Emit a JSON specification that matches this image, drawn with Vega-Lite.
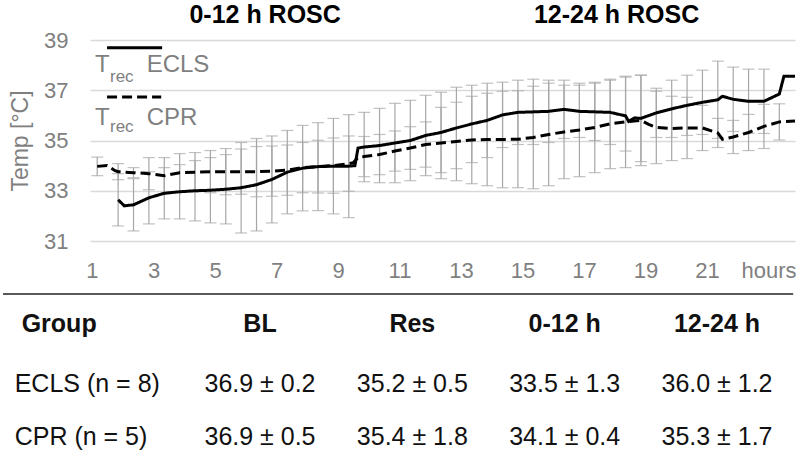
{
  "$schema": "https://vega.github.io/schema/vega-lite/v6.json",
  "width": 705,
  "height": 201,
  "autosize": {"type": "none"},
  "padding": {"left": 90, "top": 40, "right": 5, "bottom": 217},
  "background": "white",
  "config": {
    "view": {"stroke": null},
    "font": "Liberation Sans",
    "text": {"font": "Liberation Sans"},
    "axis": {"labelFont": "Liberation Sans", "titleFont": "Liberation Sans"}
  },
  "datasets": {
    "series": [
      {"t":1.85,"g":"ECLS","m":32.64,"lo":31.6,"hi":33.68},
      {"t":2.05,"g":"ECLS","m":32.4},
      {"t":2.35,"g":"ECLS","m":32.44,"lo":31.4,"hi":33.48},
      {"t":2.85,"g":"ECLS","m":32.72,"lo":31.68,"hi":33.76},
      {"t":3.35,"g":"ECLS","m":32.9,"lo":31.88,"hi":33.92},
      {"t":3.85,"g":"ECLS","m":32.96,"lo":31.88,"hi":34.04},
      {"t":4.35,"g":"ECLS","m":33.0,"lo":31.8,"hi":34.2},
      {"t":4.85,"g":"ECLS","m":33.02,"lo":31.72,"hi":34.32},
      {"t":5.35,"g":"ECLS","m":33.06,"lo":31.68,"hi":34.44},
      {"t":5.85,"g":"ECLS","m":33.12,"lo":31.32,"hi":34.92},
      {"t":6.35,"g":"ECLS","m":33.24,"lo":31.4,"hi":35.08},
      {"t":6.85,"g":"ECLS","m":33.45,"lo":31.72,"hi":35.18},
      {"t":7.35,"g":"ECLS","m":33.74,"lo":32.08,"hi":35.4},
      {"t":7.85,"g":"ECLS","m":33.9,"lo":32.2,"hi":35.6},
      {"t":8.35,"g":"ECLS","m":33.96,"lo":32.21,"hi":35.71},
      {"t":8.85,"g":"ECLS","m":33.98,"lo":32.08,"hi":35.88},
      {"t":9.35,"g":"ECLS","m":33.98,"lo":31.93,"hi":36.03},
      {"t":9.55,"g":"ECLS","m":34.0},
      {"t":9.65,"g":"ECLS","m":34.7},
      {"t":9.85,"g":"ECLS","m":34.74,"lo":33.36,"hi":36.12},
      {"t":10.35,"g":"ECLS","m":34.8,"lo":33.32,"hi":36.28},
      {"t":10.85,"g":"ECLS","m":34.9,"lo":33.32,"hi":36.48},
      {"t":11.35,"g":"ECLS","m":35.0,"lo":33.4,"hi":36.6},
      {"t":11.85,"g":"ECLS","m":35.2,"lo":33.6,"hi":36.8},
      {"t":12.35,"g":"ECLS","m":35.32,"lo":33.72,"hi":36.92},
      {"t":12.85,"g":"ECLS","m":35.5,"lo":33.88,"hi":37.12},
      {"t":13.35,"g":"ECLS","m":35.66,"lo":34.12,"hi":37.2},
      {"t":13.85,"g":"ECLS","m":35.8,"lo":34.32,"hi":37.28},
      {"t":14.35,"g":"ECLS","m":36.02,"lo":34.72,"hi":37.32},
      {"t":14.85,"g":"ECLS","m":36.12,"lo":34.84,"hi":37.4},
      {"t":15.35,"g":"ECLS","m":36.14,"lo":34.84,"hi":37.44},
      {"t":15.85,"g":"ECLS","m":36.16,"lo":34.92,"hi":37.4},
      {"t":16.35,"g":"ECLS","m":36.24,"lo":35.08,"hi":37.4},
      {"t":16.85,"g":"ECLS","m":36.16,"lo":35.12,"hi":37.2},
      {"t":17.35,"g":"ECLS","m":36.14,"lo":35.0,"hi":37.28},
      {"t":17.85,"g":"ECLS","m":36.12,"lo":34.84,"hi":37.4},
      {"t":18.35,"g":"ECLS","m":35.98,"lo":34.58,"hi":37.52},
      {"t":18.45,"g":"ECLS","m":35.76},
      {"t":18.65,"g":"ECLS","m":35.9},
      {"t":18.85,"g":"ECLS","m":35.88,"lo":34.16,"hi":37.6},
      {"t":19.35,"g":"ECLS","m":36.1,"lo":35.12,"hi":37.08},
      {"t":19.85,"g":"ECLS","m":36.26,"lo":35.12,"hi":37.4},
      {"t":20.35,"g":"ECLS","m":36.4,"lo":35.2,"hi":37.6},
      {"t":20.85,"g":"ECLS","m":36.52,"lo":35.24,"hi":37.8},
      {"t":21.35,"g":"ECLS","m":36.62,"lo":35.08,"hi":38.16},
      {"t":21.5,"g":"ECLS","m":36.76},
      {"t":21.85,"g":"ECLS","m":36.64,"lo":35.36,"hi":37.92},
      {"t":22.35,"g":"ECLS","m":36.56,"lo":35.28,"hi":37.84},
      {"t":22.85,"g":"ECLS","m":36.56,"lo":35.28,"hi":37.84},
      {"t":23.35,"g":"ECLS","m":36.85},
      {"t":23.5,"g":"ECLS","m":37.56},
      {"t":23.86,"g":"ECLS","m":37.56},
      {"t":1.17,"g":"CPR","m":33.97,"lo":33.6,"hi":34.34},
      {"t":1.49,"g":"CPR","m":34.0},
      {"t":1.75,"g":"CPR","m":33.8},
      {"t":1.85,"g":"CPR","m":33.76,"lo":33.44,"hi":34.08},
      {"t":2.35,"g":"CPR","m":33.72,"lo":33.52,"hi":33.92},
      {"t":2.85,"g":"CPR","m":33.68,"lo":33.04,"hi":34.32},
      {"t":3.35,"g":"CPR","m":33.6,"lo":32.88,"hi":34.32},
      {"t":3.85,"g":"CPR","m":33.72,"lo":32.96,"hi":34.48},
      {"t":4.35,"g":"CPR","m":33.74,"lo":32.96,"hi":34.52},
      {"t":4.85,"g":"CPR","m":33.76,"lo":32.92,"hi":34.6},
      {"t":5.35,"g":"CPR","m":33.76,"lo":32.84,"hi":34.68},
      {"t":5.85,"g":"CPR","m":33.76,"lo":32.86,"hi":34.66},
      {"t":6.35,"g":"CPR","m":33.76,"lo":32.76,"hi":34.76},
      {"t":6.85,"g":"CPR","m":33.78,"lo":32.78,"hi":34.78},
      {"t":7.35,"g":"CPR","m":33.82,"lo":32.82,"hi":34.82},
      {"t":7.85,"g":"CPR","m":33.92,"lo":32.92,"hi":34.92},
      {"t":8.35,"g":"CPR","m":33.96,"lo":32.91,"hi":35.01},
      {"t":8.85,"g":"CPR","m":34.0,"lo":32.9,"hi":35.1},
      {"t":9.35,"g":"CPR","m":34.08,"lo":32.98,"hi":35.18},
      {"t":9.5,"g":"CPR","m":34.12},
      {"t":9.65,"g":"CPR","m":34.32},
      {"t":9.85,"g":"CPR","m":34.36,"lo":33.56,"hi":35.16},
      {"t":10.35,"g":"CPR","m":34.44,"lo":33.64,"hi":35.24},
      {"t":10.85,"g":"CPR","m":34.58,"lo":33.78,"hi":35.38},
      {"t":11.35,"g":"CPR","m":34.7,"lo":33.85,"hi":35.55},
      {"t":11.85,"g":"CPR","m":34.84,"lo":33.94,"hi":35.74},
      {"t":12.35,"g":"CPR","m":34.9,"lo":33.48,"hi":36.32},
      {"t":12.85,"g":"CPR","m":34.96,"lo":33.4,"hi":36.52},
      {"t":13.35,"g":"CPR","m":35.02,"lo":33.28,"hi":36.76},
      {"t":13.85,"g":"CPR","m":35.04,"lo":33.2,"hi":36.88},
      {"t":14.35,"g":"CPR","m":35.04,"lo":33.12,"hi":36.96},
      {"t":14.85,"g":"CPR","m":35.05,"lo":33.12,"hi":36.98},
      {"t":15.35,"g":"CPR","m":35.12,"lo":33.08,"hi":37.16},
      {"t":15.85,"g":"CPR","m":35.24,"lo":33.2,"hi":37.28},
      {"t":16.35,"g":"CPR","m":35.34,"lo":33.48,"hi":37.2},
      {"t":16.85,"g":"CPR","m":35.42,"lo":33.56,"hi":37.28},
      {"t":17.35,"g":"CPR","m":35.52,"lo":33.72,"hi":37.32},
      {"t":17.85,"g":"CPR","m":35.66,"lo":33.88,"hi":37.44},
      {"t":18.35,"g":"CPR","m":35.74,"lo":33.92,"hi":37.56},
      {"t":18.85,"g":"CPR","m":35.8,"lo":34.0,"hi":37.6},
      {"t":19.1,"g":"CPR","m":35.64},
      {"t":19.35,"g":"CPR","m":35.52,"lo":34.08,"hi":36.96},
      {"t":19.85,"g":"CPR","m":35.48,"lo":34.2,"hi":36.76},
      {"t":20.35,"g":"CPR","m":35.5,"lo":34.28,"hi":36.72},
      {"t":20.85,"g":"CPR","m":35.5,"lo":34.6,"hi":36.4},
      {"t":21.35,"g":"CPR","m":35.3,"lo":34.72,"hi":35.88},
      {"t":21.5,"g":"CPR","m":35.05},
      {"t":21.85,"g":"CPR","m":35.14,"lo":34.48,"hi":35.8},
      {"t":22.35,"g":"CPR","m":35.32,"lo":34.6,"hi":36.04},
      {"t":22.85,"g":"CPR","m":35.56,"lo":34.68,"hi":36.44},
      {"t":23.35,"g":"CPR","m":35.74,"lo":35.02,"hi":36.46},
      {"t":23.86,"g":"CPR","m":35.78}
    ],
    "table": [
      {"r":0,"c":0,"v":"Group"},{"r":0,"c":1,"v":"BL"},{"r":0,"c":2,"v":"Res"},{"r":0,"c":3,"v":"0-12 h"},{"r":0,"c":4,"v":"12-24 h"},
      {"r":1,"c":0,"v":"ECLS (n = 8)"},{"r":1,"c":1,"v":"36.9 ± 0.2"},{"r":1,"c":2,"v":"35.2 ± 0.5"},{"r":1,"c":3,"v":"33.5 ± 1.3"},{"r":1,"c":4,"v":"36.0 ± 1.2"},
      {"r":2,"c":0,"v":"CPR (n = 5)"},{"r":2,"c":1,"v":"36.9 ± 0.5"},{"r":2,"c":2,"v":"35.4 ± 1.8"},{"r":2,"c":3,"v":"34.1 ± 0.4"},{"r":2,"c":4,"v":"35.3 ± 1.7"}
    ]
  },
  "layer": [
    {
      "data": {"name": "series"},
      "layer": [
        {
          "transform": [{"filter": "isValid(datum.lo)"}],
          "mark": {"type": "rule", "color": "#a6a6a6", "strokeWidth": 1.2},
          "encoding": {
            "x": {
              "field": "t", "type": "quantitative",
              "scale": {"domain": [0.935, 23.86], "nice": false, "zero": false},
              "axis": {
                "values": [1,3,5,7,9,11,13,15,17,19,21,23],
                "labelExpr": "datum.value == 23 ? 'hours' : datum.label",
                "grid": false, "ticks": false, "tickSize": 0, "domain": false,
                "labelFontSize": 22, "labelColor": "#7f7f7f", "labelPadding": 19,
                "labelFlush": false, "labelOverlap": false, "labelBound": false,
                "title": null
              }
            },
            "y": {
              "field": "lo", "type": "quantitative",
              "scale": {"domain": [31, 39], "nice": false, "zero": false},
              "axis": {
                "values": [31,33,35,37,39],
                "grid": true, "gridColor": "#d9d9d9", "gridWidth": 1.5,
                "ticks": false, "tickSize": 0, "domain": false,
                "labelFontSize": 22, "labelColor": "#7f7f7f", "labelPadding": 22,
                "title": "Temp [°C]", "titleFontSize": 23, "titleColor": "#7f7f7f",
                "titleFontWeight": "normal", "titlePadding": 11
              }
            },
            "y2": {"field": "hi"}
          }
        },
        {
          "transform": [{"filter": "isValid(datum.lo)"}],
          "mark": {"type": "tick", "orient": "horizontal", "color": "#a6a6a6", "size": 12, "thickness": 1.2},
          "encoding": {
            "x": {"field": "t", "type": "quantitative"},
            "y": {"field": "lo", "type": "quantitative"}
          }
        },
        {
          "transform": [{"filter": "isValid(datum.hi)"}],
          "mark": {"type": "tick", "orient": "horizontal", "color": "#a6a6a6", "size": 12, "thickness": 1.2},
          "encoding": {
            "x": {"field": "t", "type": "quantitative"},
            "y": {"field": "hi", "type": "quantitative"}
          }
        },
        {
          "mark": {"type": "line", "color": "black", "strokeWidth": 3},
          "encoding": {
            "x": {"field": "t", "type": "quantitative"},
            "y": {"field": "m", "type": "quantitative"},
            "strokeDash": {
              "field": "g", "type": "nominal",
              "scale": {"domain": ["ECLS", "CPR"], "range": [[1, 0], [10, 5]]},
              "legend": null
            }
          }
        },
        {
          "data": {"values": [{}]},
          "mark": {"type": "text", "text": "0-12 h ROSC", "fontSize": 25, "fontWeight": "bold", "color": "black", "align": "center", "baseline": "middle"},
          "encoding": {"x": {"datum": 6.63}, "y": {"datum": 40}}
        },
        {
          "data": {"values": [{}]},
          "mark": {"type": "text", "text": "12-24 h ROSC", "fontSize": 25, "fontWeight": "bold", "color": "black", "align": "center", "baseline": "middle"},
          "encoding": {"x": {"datum": 18.06}, "y": {"datum": 40}}
        },
        {
          "data": {"values": [{}]},
          "mark": {"type": "rule", "color": "black", "strokeWidth": 3},
          "encoding": {"x": {"datum": 1.49}, "x2": {"datum": 3.28}, "y": {"datum": 38.69}}
        },
        {
          "data": {"values": [{}]},
          "mark": {"type": "rule", "color": "black", "strokeWidth": 3, "strokeDash": [10, 5]},
          "encoding": {"x": {"datum": 1.49}, "x2": {"datum": 3.25}, "y": {"datum": 36.73}}
        },
        {
          "data": {"values": [{}]},
          "mark": {"type": "text", "text": "T", "fontSize": 24, "color": "#7f7f7f", "align": "left", "baseline": "alphabetic"},
          "encoding": {"x": {"datum": 1.098}, "y": {"datum": 37.73}}
        },
        {
          "data": {"values": [{}]},
          "mark": {"type": "text", "text": "rec", "fontSize": 17, "color": "#7f7f7f", "align": "left", "baseline": "alphabetic"},
          "encoding": {"x": {"datum": 1.585}, "y": {"datum": 37.33}}
        },
        {
          "data": {"values": [{}]},
          "mark": {"type": "text", "text": "ECLS", "fontSize": 24, "color": "#7f7f7f", "align": "left", "baseline": "alphabetic"},
          "encoding": {"x": {"datum": 2.778}, "y": {"datum": 37.73}}
        },
        {
          "data": {"values": [{}]},
          "mark": {"type": "text", "text": "T", "fontSize": 24, "color": "#7f7f7f", "align": "left", "baseline": "alphabetic"},
          "encoding": {"x": {"datum": 1.098}, "y": {"datum": 35.6}}
        },
        {
          "data": {"values": [{}]},
          "mark": {"type": "text", "text": "rec", "fontSize": 17, "color": "#7f7f7f", "align": "left", "baseline": "alphabetic"},
          "encoding": {"x": {"datum": 1.585}, "y": {"datum": 35.34}}
        },
        {
          "data": {"values": [{}]},
          "mark": {"type": "text", "text": "CPR", "fontSize": 24, "color": "#7f7f7f", "align": "left", "baseline": "alphabetic"},
          "encoding": {"x": {"datum": 2.778}, "y": {"datum": 35.6}}
        }
      ]
    },
    {
      "data": {"name": "table"},
      "layer": [
        {
          "transform": [{"filter": "datum.r > 0 && datum.c > 0"}],
          "mark": {"type": "text", "fontSize": 25, "color": "#111111", "align": "center", "baseline": "middle"},
          "encoding": {
            "x": {"field": "c", "type": "quantitative", "scale": {"domain": [1, 4], "range": [170, 627], "nice": false, "zero": false}, "axis": null},
            "y": {"field": "r", "type": "quantitative", "scale": {"domain": [1, 2], "range": [343.5, 396.5], "nice": false, "zero": false}, "axis": null},
            "text": {"field": "v"}
          }
        },
        {
          "transform": [{"filter": "datum.r == 0 && datum.c == 0"}],
          "mark": {"type": "text", "fontSize": 25, "fontWeight": "bold", "color": "#111111", "align": "left", "baseline": "middle", "dx": -86, "dy": -7},
          "encoding": {
            "x": {"field": "c", "type": "quantitative"},
            "y": {"field": "r", "type": "quantitative"},
            "text": {"field": "v"}
          }
        },
        {
          "transform": [{"filter": "datum.r == 0 && datum.c > 0"}],
          "mark": {"type": "text", "fontSize": 25, "fontWeight": "bold", "color": "#111111", "align": "center", "baseline": "middle", "dy": -7},
          "encoding": {
            "x": {"field": "c", "type": "quantitative"},
            "y": {"field": "r", "type": "quantitative"},
            "text": {"field": "v"}
          }
        },
        {
          "transform": [{"filter": "datum.r > 0 && datum.c == 0"}],
          "mark": {"type": "text", "fontSize": 25, "color": "#111111", "align": "left", "baseline": "middle", "dx": -93},
          "encoding": {
            "x": {"field": "c", "type": "quantitative"},
            "y": {"field": "r", "type": "quantitative"},
            "text": {"field": "v"}
          }
        },
        {
          "data": {"values": [{"c0": -0.687, "c1": 4.5, "r": -0.689}]},
          "mark": {"type": "rule", "color": "#595959", "strokeWidth": 2},
          "encoding": {
            "x": {"field": "c0", "type": "quantitative"},
            "x2": {"field": "c1"},
            "y": {"field": "r", "type": "quantitative"}
          }
        }
      ]
    }
  ],
  "resolve": {
    "scale": {"x": "independent", "y": "independent"},
    "axis": {"x": "independent", "y": "independent"}
  }
}
